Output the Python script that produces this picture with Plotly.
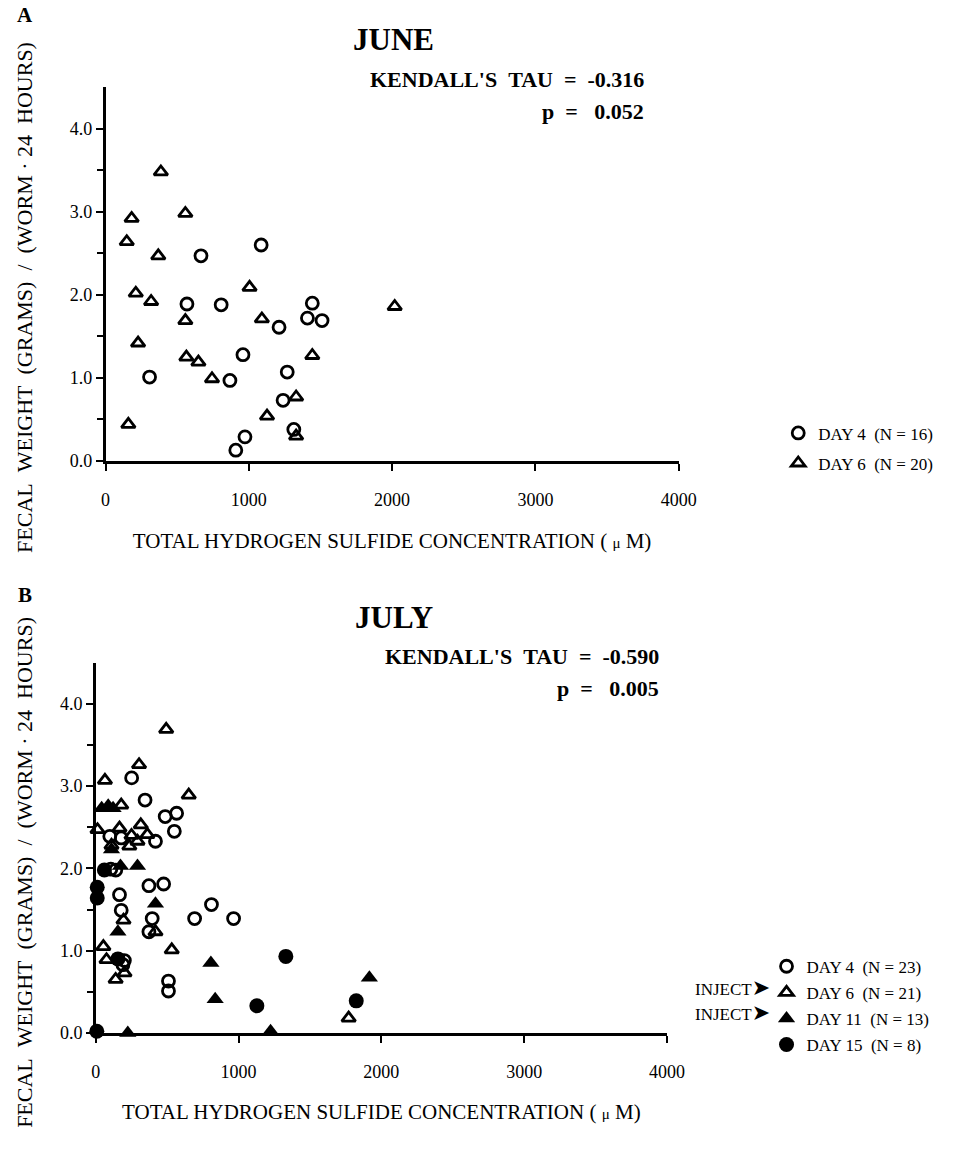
import plotly.graph_objects as go

# ---------------- Data ----------------
# Panel A (June)
june_d4_x = [1086, 666, 568, 807, 1443, 1409, 1511, 1211, 959, 307, 868, 1268, 1239, 1314, 973, 909]
june_d4_y = [2.60, 2.47, 1.89, 1.88, 1.90, 1.72, 1.69, 1.61, 1.28, 1.01, 0.97, 1.07, 0.73, 0.38, 0.29, 0.13]
june_d6_x = [386, 182, 557, 148, 368, 211, 318, 1005, 557, 1091, 227, 564, 648, 743, 1443, 2018, 1330, 1127, 1330, 159]
june_d6_y = [3.48, 2.92, 2.98, 2.64, 2.47, 2.02, 1.92, 2.09, 1.69, 1.71, 1.42, 1.25, 1.19, 0.99, 1.27, 1.86, 0.77, 0.54, 0.30, 0.44]

# Panel B (July)
july_d4_x = [251, 345, 486, 566, 550, 418, 98, 178, 372, 475, 166, 178, 395, 372, 692, 810, 965, 509, 509, 190, 105, 140, 200]
july_d4_y = [3.10, 2.83, 2.63, 2.67, 2.45, 2.33, 2.39, 2.37, 1.79, 1.81, 1.68, 1.49, 1.39, 1.23, 1.39, 1.56, 1.39, 0.63, 0.51, 0.83, 1.99, 1.98, 0.88]
july_d6_x = [493, 303, 64, 651, 178, 12, 166, 315, 235, 292, 361, 194, 418, 532, 53, 75, 139, 201, 1771, 110, 250]
july_d6_y = [3.69, 3.26, 3.07, 2.89, 2.77, 2.47, 2.49, 2.53, 2.27, 2.33, 2.41, 1.37, 1.23, 1.01, 1.05, 0.89, 0.65, 0.73, 0.18, 2.28, 2.40]
july_d11_x = [41, 87, 121, 110, 292, 173, 418, 155, 806, 836, 1224, 224, 1916]
july_d11_y = [2.73, 2.76, 2.73, 2.23, 2.03, 2.03, 1.57, 1.23, 0.85, 0.41, 0.02, 0.00, 0.67]
july_d15_x = [10, 10, 7, 1331, 1128, 1824, 60, 155]
july_d15_y = [1.77, 1.64, 0.02, 0.93, 0.33, 0.39, 1.98, 0.90]

x_ticks = [0, 1000, 2000, 3000, 4000]
y_ticks = [0, 1, 2, 3, 4]

june_names = ["DAY 4\u00a0\u00a0(N = 16)", "DAY 6\u00a0\u00a0(N = 20)"]
july_names = ["DAY 4\u00a0\u00a0(N = 23)", "DAY 6\u00a0\u00a0(N = 21)", "DAY 11\u00a0\u00a0(N = 13)", "DAY 15\u00a0\u00a0(N = 8)"]

FONT = "Liberation Serif"
BLACK = "#000000"

fig = go.Figure()

SIZES = {"circle-open": 12, "triangle-up-open": 12, "triangle-up": 15, "circle": 15}

def add(x, y, symbol, name, xa, ya, legend, filled):
    fig.add_trace(go.Scatter(
        x=x, y=y, mode="markers", name=name, xaxis=xa, yaxis=ya, legend=legend,
        legendgroup=name, cliponaxis=False,
        marker=dict(symbol=symbol, size=SIZES[symbol], color=BLACK,
                    line=dict(color=BLACK, width=0 if filled else 2.8)),
    ))

add(june_d4_x, june_d4_y, "circle-open", june_names[0], "x", "y", "legend", False)
add(june_d6_x, june_d6_y, "triangle-up-open", june_names[1], "x", "y", "legend", False)
add(july_d4_x, july_d4_y, "circle-open", july_names[0], "x2", "y2", "legend2", False)
add(july_d6_x, july_d6_y, "triangle-up-open", july_names[1], "x2", "y2", "legend2", False)
add(july_d11_x, july_d11_y, "triangle-up", july_names[2], "x2", "y2", "legend2", True)
add(july_d15_x, july_d15_y, "circle", july_names[3], "x2", "y2", "legend2", True)

W, H = 971, 1150

def xaxis(domain):
    return dict(domain=domain, range=[0, 4000], tickvals=x_ticks, ticks="outside", ticklen=7,
                tickwidth=2, tickcolor=BLACK, showline=True, linecolor=BLACK, linewidth=2.5,
                showgrid=False, zeroline=False, ticklabelstandoff=14,
                tickfont=dict(family=FONT, size=18, color=BLACK),
                title=dict(text="TOTAL HYDROGEN SULFIDE CONCENTRATION (\u00a0<span style='font-size:15px'>\u03bc</span>\u00a0M)",
                           font=dict(family=FONT, size=21, color=BLACK), standoff=24))

def yaxis(domain, anchor):
    return dict(domain=domain, range=[0, 4.5], tickvals=y_ticks, tickformat=".1f", ticks="outside",
                ticklen=7, tickwidth=2, tickcolor=BLACK, showline=True, linecolor=BLACK,
                linewidth=2.5, showgrid=False, zeroline=False, anchor=anchor,
                minor=dict(tickvals=[0.5, 1.5, 2.5, 3.5], ticks="outside", ticklen=6,
                           tickwidth=2, tickcolor=BLACK),
                tickfont=dict(family=FONT, size=18, color=BLACK))

fig.update_layout(
    width=W, height=H, margin=dict(l=0, r=0, t=0, b=0),
    paper_bgcolor="white", plot_bgcolor="white",
    font=dict(family=FONT, color=BLACK),
    xaxis=xaxis([103 / W, 690 / W]),
    yaxis=yaxis([(H - 465) / H, (H - 88) / H], "x"),
    xaxis2=dict(xaxis([93 / W, 678 / W]), anchor="y2"),
    yaxis2=yaxis([(H - 1042) / H, (H - 668.5) / H], "x2"),
    legend=dict(x=792 / W, y=1 - 419 / H, xanchor="left", yanchor="top",
                font=dict(family=FONT, size=17, color=BLACK), bgcolor="rgba(0,0,0,0)",
                tracegroupgap=5, itemwidth=30),
    legend2=dict(x=780 / W, y=1 - 957 / H, xanchor="left", yanchor="top",
                 font=dict(family=FONT, size=17, color=BLACK), bgcolor="rgba(0,0,0,0)",
                 tracegroupgap=1, itemwidth=30),
)

ann = []
def text(x, y, s, size, bold=False, xanchor="center", angle=0):
    ann.append(dict(x=x / W, y=1 - y / H, xref="paper", yref="paper", text=("<b>%s</b>" % s) if bold else s,
                    showarrow=False, xanchor=xanchor, yanchor="middle", textangle=angle,
                    font=dict(family=FONT, size=size, color=BLACK)))

ylab = "FECAL\u00a0\u00a0WEIGHT\u00a0 (GRAMS)\u00a0 /\u00a0 (WORM \u00b7 24\u00a0 HOURS)"
text(20, 15, "A", 21, True)
text(398, 40, "JUNE", 31, True)
text(657, 80, "KENDALL'S\u00a0\u00a0TAU\u00a0\u00a0=\u00a0\u00a0-0.316", 22, True, "right")
text(657, 112, "p\u00a0\u00a0=\u00a0\u00a0\u00a00.052", 22, True, "right")
text(20, 300, ylab, 22, False, "center", -90)

text(20, 600, "B", 21, True)
text(398, 623, "JULY", 31, True)
text(672, 662, "KENDALL'S\u00a0\u00a0TAU\u00a0\u00a0=\u00a0\u00a0-0.590", 22, True, "right")
text(672, 695, "p\u00a0\u00a0=\u00a0\u00a0\u00a00.005", 22, True, "right")
text(20, 880, ylab, 22, False, "center", -90)

arrow = "INJECT<span style='font-family:DejaVu Sans;font-size:22px'>\u27a4</span>"
text(786, 996, arrow, 17, False, "right")
text(786, 1021, arrow, 17, False, "right")

fig.update_layout(annotations=ann)
fig.write_html("out.html")
